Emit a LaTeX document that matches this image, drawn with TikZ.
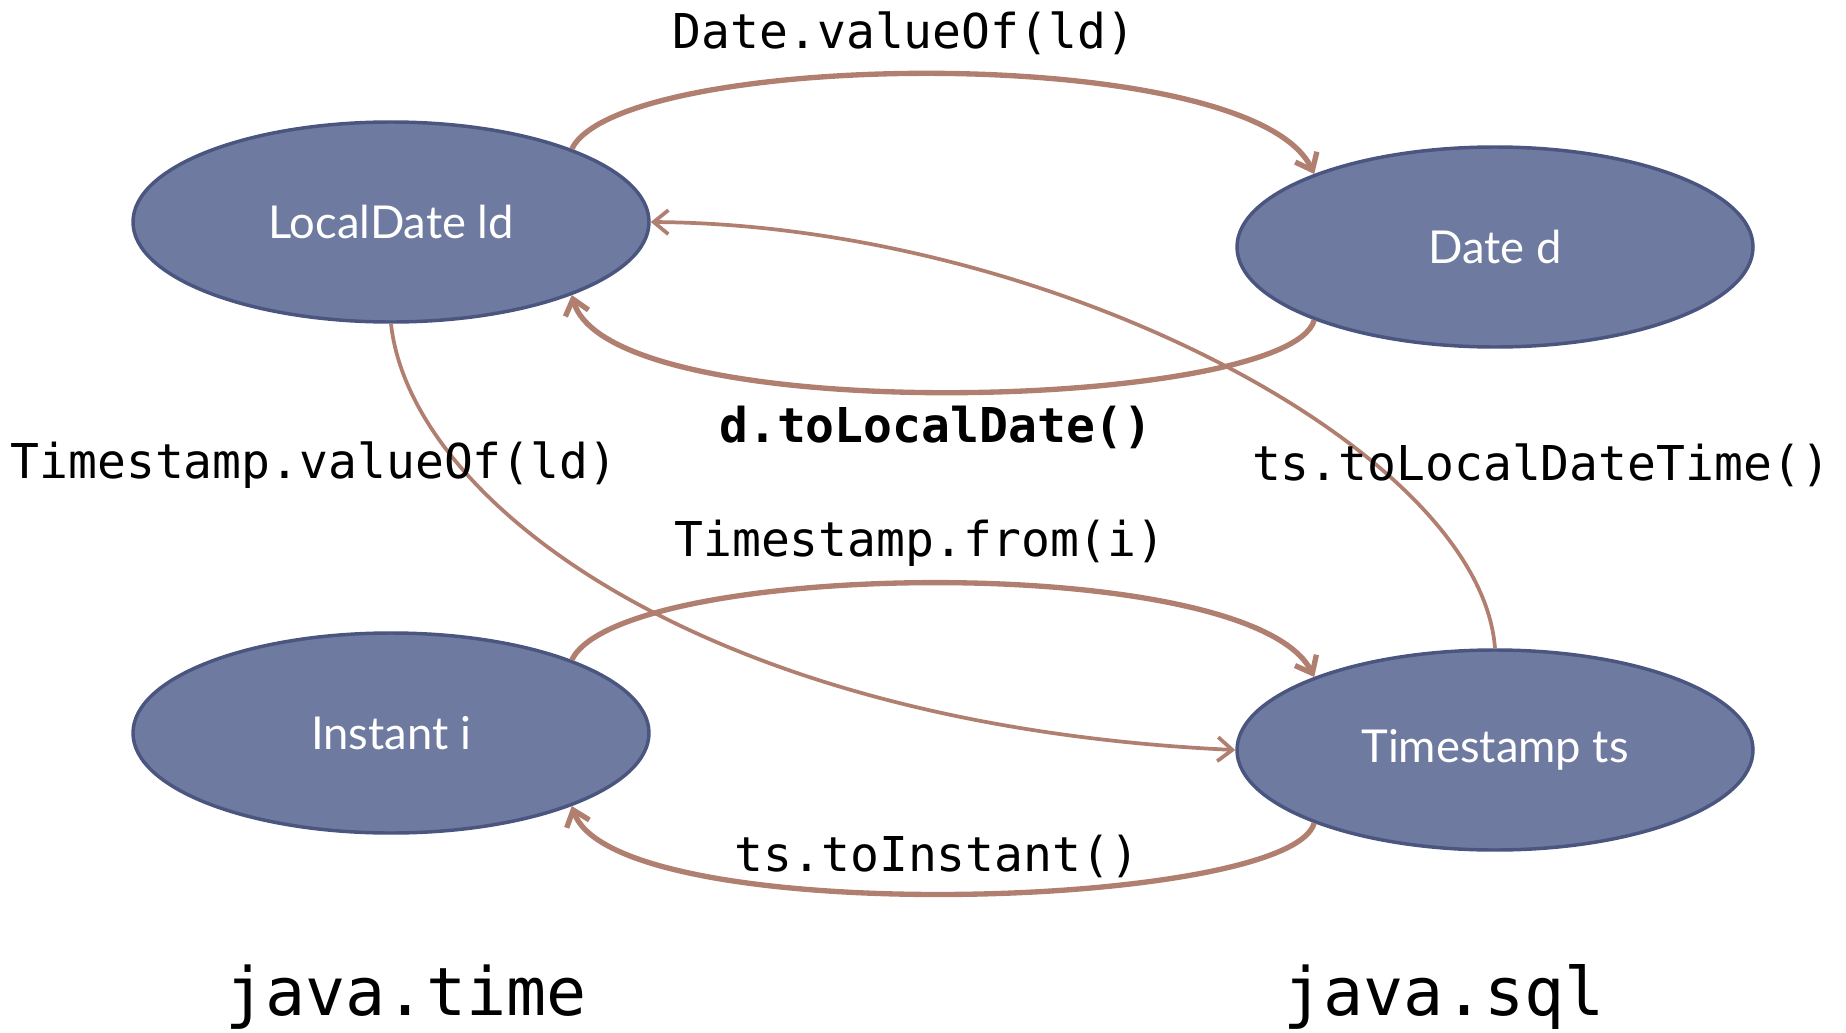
\documentclass[tikz,border=0pt]{standalone}
\usepackage{fontspec}
\setmainfont{Lato}
\setsansfont{Lato}
\setmonofont{DejaVu Sans Mono}
\usepackage{xcolor}
\usepackage{tikz}
\usetikzlibrary{shapes.geometric,arrows.meta}

\definecolor{objfill}{RGB}{111,122,160}
\definecolor{objline}{RGB}{74,85,128}
\definecolor{convline}{RGB}{176,127,112}

\begin{document}
\begin{tikzpicture}[x=0.75pt,y=0.75pt,yscale=-1,xscale=1,
  objnode/.style={ellipse,fill=objfill,draw=objline,line width=2.6pt,minimum width=387pt,minimum height=150pt,inner sep=0pt,text=white,font=\sffamily\fontsize{34}{38}\selectfont},
  conv/.style={draw=convline,line width=4pt,-{Straight Barb[length=11pt,width=18pt]}},
  convthin/.style={conv,line width=2.8pt},
  callbl/.style={inner sep=0pt,font=\ttfamily\fontsize{36}{40}\selectfont},
  pkglbl/.style={inner sep=0pt,anchor=base,font=\ttfamily\fontsize{50}{56}\selectfont}]

\useasboundingbox (0,0) rectangle (1846,1032);

% the four objects
\node [objnode] (ld) at (391,222) {LocalDate ld};
\node [objnode] (dd) at (1495,247) {Date d};
\node [objnode] (ii) at (391,733) {Instant i};
\node [objnode] (ts) at (1495,750) {Timestamp ts};

% LocalDate <-> Date
\draw [conv] (ld.22) .. controls (620,50) and (1250,40) .. (dd.158);
\draw [conv] (dd.202) .. controls (1290,410) and (610,430) .. (ld.338);

% LocalDate <-> Timestamp
\draw [convthin] (ts.north) .. controls (1480,450) and (1050,225) .. (ld.east);
\draw [convthin] (ld.south) .. controls (410,500) and (700,725) .. (ts.west);

% Instant <-> Timestamp
\draw [conv] (ii.22) .. controls (620,560) and (1250,550) .. (ts.158);
\draw [conv] (ts.202) .. controls (1290,910) and (615,930) .. (ii.338);

% method labels
\node [callbl] (valueofd) at (904,33) {Date.valueOf(ld)};
\node [callbl] (tolocald) at (936,427) {\bfseries d.toLocalDate()};
\node [callbl] (valueofts) at (314,465) {Timestamp.valueOf(ld)};
\node [callbl] (tolocaldt) at (1541,465) {ts.toLocalDateTime()};
\node [callbl] (fromi) at (920,543) {Timestamp.from(i)};
\node [callbl] (toinst) at (937,856) {ts.toInstant()};

% packages
\node [pkglbl] (pkgtime) at (406,1015) {java.time};
\node [pkglbl] (pkgsql) at (1444,1015) {java.sql};

\end{tikzpicture}
\end{document}
